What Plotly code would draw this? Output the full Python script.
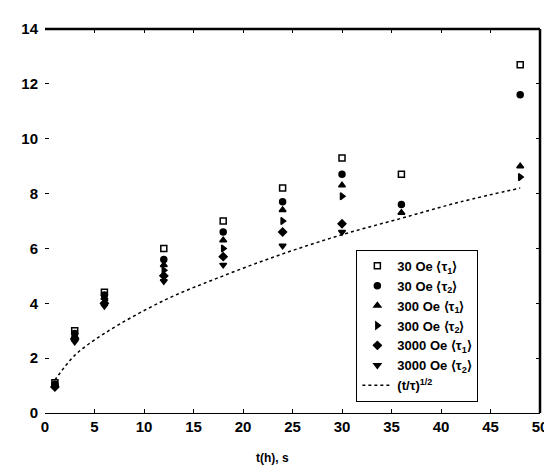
import plotly.graph_objects as go

# ---- data ----
x_vals = [1, 3, 6, 12, 18, 24, 30, 36, 48]
s30_t1 = [1.10, 3.00, 4.40, 6.00, 7.00, 8.20, 9.30, 8.70, 12.70]
s30_t2 = [1.05, 2.90, 4.30, 5.60, 6.60, 7.70, 8.70, 7.60, 11.60]
s300_t1 = [1.00, 2.80, 4.20, 5.40, 6.30, 7.40, 8.30, 7.30, 9.00]
s300_t2 = [1.00, 2.75, 4.10, 5.20, 6.00, 7.00, 7.90, None, 8.60]
s3000_t1 = [0.95, 2.70, 4.00, 5.00, 5.70, 6.60, 6.90, None, None]
s3000_t2 = [0.95, 2.60, 3.90, 4.80, 5.40, 6.10, 6.60, None, None]

fit_x = [1, 3, 6, 12, 18, 24, 30, 36, 42, 48]
fit_y = [1.2, 2.1, 2.9, 4.1, 5.0, 5.8, 6.5, 7.1, 7.7, 8.2]

series = [
    ("30 Oe ⟨τ<sub>1</sub>⟩", s30_t1, "square-open"),
    ("30 Oe ⟨τ<sub>2</sub>⟩", s30_t2, "circle"),
    ("300 Oe ⟨τ<sub>1</sub>⟩", s300_t1, "triangle-up"),
    ("300 Oe ⟨τ<sub>2</sub>⟩", s300_t2, "triangle-right"),
    ("3000 Oe ⟨τ<sub>1</sub>⟩", s3000_t1, "diamond"),
    ("3000 Oe ⟨τ<sub>2</sub>⟩", s3000_t2, "triangle-down"),
]

fig = go.Figure()
for name, ys, sym in series:
    fig.add_trace(go.Scatter(
        x=x_vals, y=ys, mode="markers", name=name,
        marker=dict(symbol=sym, size=6, color="black",
                    line=dict(color="black", width=1.5)),
    ))
fig.add_trace(go.Scatter(
    x=fit_x, y=fit_y, mode="lines", name="(t/τ)<sup>1/2</sup>",
    line=dict(color="black", width=1.5, dash="dot", shape="spline"),
))

font_b = dict(family="Liberation Sans", size=15, color="black", weight="bold")

fig.update_layout(
    width=552, height=470,
    margin=dict(l=37, r=14, t=13, b=65),
    paper_bgcolor="white", plot_bgcolor="white",
    font=font_b,
    showlegend=True,
    legend=dict(
        x=0.629, y=0.425, xanchor="left", yanchor="top",
        bgcolor="white", bordercolor="black", borderwidth=1,
        font=dict(family="Liberation Sans", size=13, color="black", weight="bold"),
        tracegroupgap=0, itemwidth=30,
    ),
    xaxis=dict(
        range=[0, 50], tickvals=[0, 5, 10, 15, 20, 25, 30, 35, 40, 45, 50],
        ticks="inside", ticklen=4, tickcolor="black", mirror="ticks",
        showline=True, linecolor="black", linewidth=1,
        showgrid=False, zeroline=False, tickfont=font_b,
    ),
    yaxis=dict(
        range=[0, 14], tickvals=[0, 2, 4, 6, 8, 10, 12, 14],
        ticks="inside", ticklen=4, tickcolor="black", mirror="ticks",
        showline=False, showgrid=False, zeroline=False, tickfont=font_b,
        ticklabelstandoff=6,
    ),
    annotations=[
        dict(text="t(h), s", xref="paper", yref="paper", x=0.46, y=-0.118,
             xanchor="center", yanchor="middle", showarrow=False,
             font=dict(family="Liberation Sans", size=12, color="black",
                       weight="bold")),
    ],
    shapes=[
        dict(type="line", xref="paper", yref="paper", x0=0, x1=1, y0=1, y1=1,
             line=dict(color="black", width=2.5)),
        dict(type="line", xref="paper", yref="paper", x0=1, x1=1, y0=0, y1=1,
             line=dict(color="black", width=2.5)),
    ],
)

fig.write_html("out.html")
